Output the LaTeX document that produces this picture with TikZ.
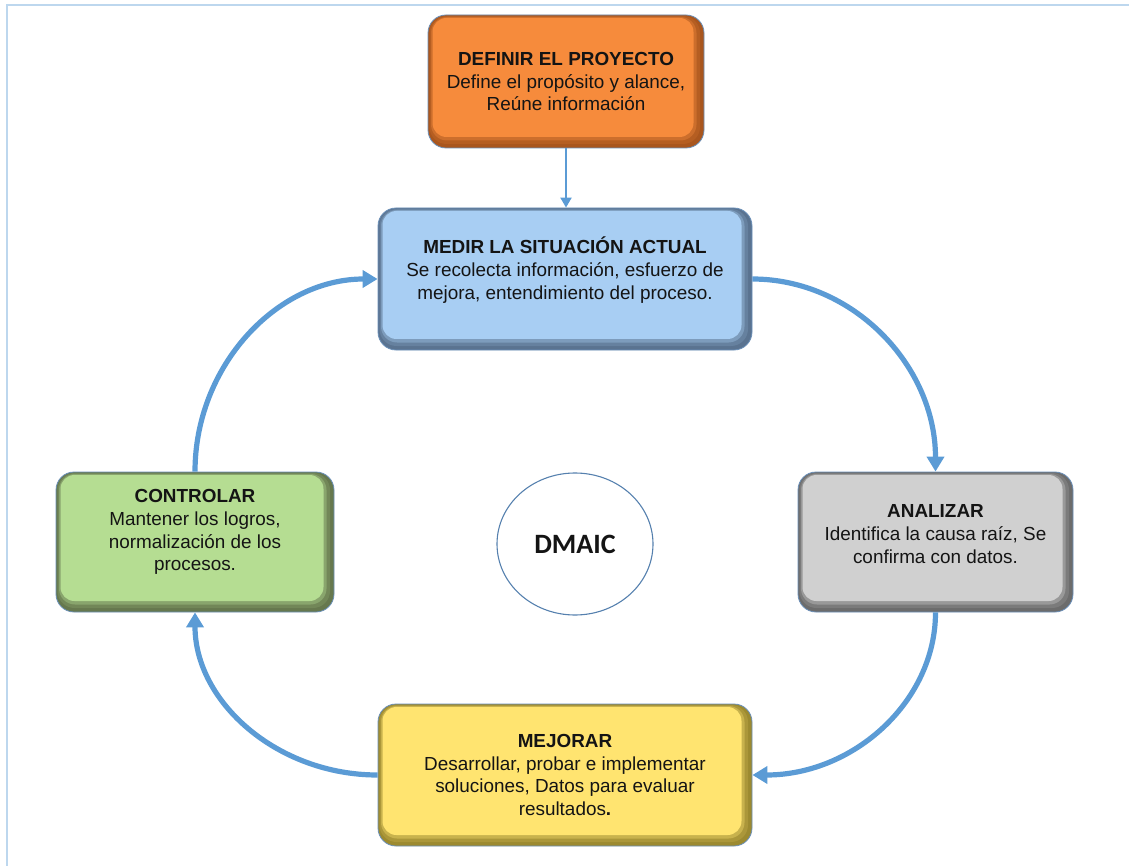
\documentclass[tikz,border=0pt]{standalone}
\usepackage{fontspec}
\setmainfont{Liberation Sans}
\newfontfamily\calibri{Carlito}
\usetikzlibrary{arrows.meta,calc,shapes.geometric}

\definecolor{ink}{HTML}{141414}
\definecolor{flowblue}{HTML}{5B9BD5}
\definecolor{framecol}{HTML}{BDD7EE}
\definecolor{boxline}{HTML}{6A8FB8}
\definecolor{ovalline}{HTML}{5580AE}
% face / edge colours of the five phases
\definecolor{orangeface}{HTML}{F68B3C}
\definecolor{orangeedge}{HTML}{A9561E}
\definecolor{blueface}{HTML}{A8CEF3}
\definecolor{blueedge}{HTML}{5A7390}
\definecolor{grayface}{HTML}{D0D0D0}
\definecolor{grayedge}{HTML}{6C6C6C}
\definecolor{greenface}{HTML}{B5DD92}
\definecolor{greenedge}{HTML}{66784E}
\definecolor{yellowface}{HTML}{FFE470}
\definecolor{yellowedge}{HTML}{9C8A30}

\tikzset{
  % rounded box with a bevelled lower-right edge
  bevelbox/.style 2 args={
    rectangle, rounded corners=18pt, inner sep=0pt,
    draw=boxline, line width=0.8pt, fill=#2,
    path picture={
      \fill[#2!85!#1, rounded corners=17pt]
        ([shift={(1.5pt,-1pt)}]path picture bounding box.north west) rectangle
        ([shift={(-4pt,4pt)}]path picture bounding box.south east);
      \fill[#2!55!#1, rounded corners=16pt]
        ([shift={(3pt,-2pt)}]path picture bounding box.north west) rectangle
        ([shift={(-7.5pt,7.5pt)}]path picture bounding box.south east);
      \fill[#1, rounded corners=14pt]
        ([shift={(4.5pt,-3pt)}]path picture bounding box.north west) rectangle
        ([shift={(-10.5pt,11pt)}]path picture bounding box.south east);
    }},
  phasetext/.style={align=center, inner sep=0pt, text=ink,
    font=\fontsize{18.9}{22.8}\selectfont},
  flow/.style={draw=flowblue, line width=5.2pt,
    -{Triangle[length=15pt,width=17pt]}},
  feed/.style={draw=flowblue, line width=2pt,
    -{Triangle[length=10pt,width=11pt]}},
}

\begin{document}
\begin{tikzpicture}[x=1pt,y=-1pt]
\useasboundingbox (0,0) rectangle (1129,866);

% page frame
\draw[framecol, line width=2.5pt] (7,866) -- (7,5) -- (1129,5);

% phase boxes
\node[bevelbox={orangeface}{orangeedge}, minimum width=276pt, minimum height=133pt] (definir) at (566,81.5) {};
\node[bevelbox={blueface}{blueedge}, minimum width=374pt, minimum height=142pt] (medir) at (565,279) {};
\node[bevelbox={grayface}{grayedge}, minimum width=275pt, minimum height=140pt] (analizar) at (935.5,542) {};
\node[bevelbox={greenface}{greenedge}, minimum width=278pt, minimum height=140pt] (controlar) at (195,542) {};
\node[bevelbox={yellowface}{yellowedge}, minimum width=374pt, minimum height=142pt] (mejorar) at (565,775) {};

% box texts
\node[phasetext] (definirT) at ($(definir.center)+(0,0)$)
  {\textbf{DEFINIR EL PROYECTO}\\Define el propósito y alance,\\Reúne información};
\node[phasetext] (medirT) at ($(medir.center)+(0,-9)$)
  {\textbf{MEDIR LA SITUACIÓN ACTUAL}\\Se recolecta información, esfuerzo de\\mejora, entendimiento del proceso.};
\node[phasetext] (analizarT) at ($(analizar.center)+(0,-8)$)
  {\textbf{ANALIZAR}\\Identifica la causa raíz, Se\\confirma con datos.};
\node[phasetext] (controlarT) at ($(controlar.center)+(0,-10)$)
  {\textbf{CONTROLAR}\\Mantener los logros,\\normalización de los\\procesos.};
\node[phasetext] (mejorarT) at ($(mejorar.center)+(0,0)$)
  {\textbf{MEJORAR}\\Desarrollar, probar e implementar\\soluciones, Datos para evaluar\\resultados\textbf{.}};

% centre label
\node[ellipse, draw=ovalline, line width=1.1pt, minimum width=156pt, minimum height=142pt,
      inner sep=0pt, font=\calibri\bfseries\fontsize{28}{30}\selectfont, text=ink]
  (dmaic) at (575,544) {DMAIC};

% connectors
\draw[feed] (definir.south) -- (definir.south |- medir.north);

\coordinate (cA) at (analizar.north |- medir.east);
\draw[flow] (medir.east) .. controls ($(medir.east)!0.55!(cA)$) and ($(analizar.north)!0.55!(cA)$) .. (analizar.north);

\coordinate (cB) at (analizar.south |- mejorar.east);
\draw[flow] (analizar.south) .. controls ($(analizar.south)!0.55!(cB)$) and ($(mejorar.east)!0.55!(cB)$) .. (mejorar.east);

\coordinate (cC) at (controlar.south |- mejorar.west);
\draw[flow] (mejorar.west) .. controls ($(mejorar.west)!0.55!(cC)$) and ($(controlar.south)!0.55!(cC)$) .. (controlar.south);

\coordinate (cD) at (controlar.north |- medir.west);
\draw[flow] (controlar.north) .. controls ($(controlar.north)!0.55!(cD)$) and ($(medir.west)!0.55!(cD)$) .. (medir.west);
\end{tikzpicture}
\end{document}
